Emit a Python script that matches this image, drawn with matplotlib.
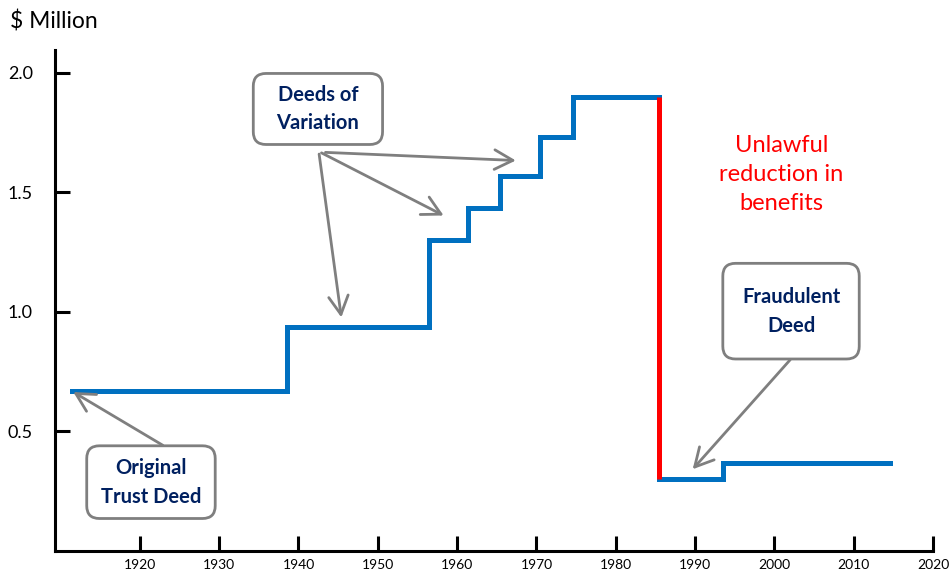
import matplotlib

matplotlib.use("Agg")
import matplotlib.pyplot as plt
from matplotlib.patches import FancyBboxPatch

# pension benefit level ($ million)
years_before = [1911.4, 1938.5, 1956.5, 1961.4, 1965.4, 1970.4, 1974.6, 1985.5]
benefit_before = [0.67, 0.935, 1.30, 1.435, 1.567, 1.733, 1.90, 1.90]
years_after = [1985.5, 1993.5, 2014.6]
benefit_after = [0.30, 0.37, 0.37]

x_ticks = list(range(1920, 2021, 10))
y_ticks = [0.5, 1.0, 1.5, 2.0]
y_tick_labels = ["0.5", "1.0", "1.5", "2.0"]

BLUE = "#0070C0"
RED = "#FF0000"
NAVY = "#002060"
GREY = "#7F7F7F"

plt.rcParams["font.family"] = ["Lato", "DejaVu Sans"]

fig = plt.figure(figsize=(9.5, 5.75), dpi=100)
ax = fig.add_axes([0.0579, 0.0417, 0.9242, 0.8713])
ax.set_xlim(1909.3, 2020)
ax.set_ylim(0, 2.095)

ax.plot(years_before, benefit_before, drawstyle="steps-post", color=BLUE, lw=3.6,
        solid_joinstyle="miter")
ax.plot(years_after, benefit_after, drawstyle="steps-post", color=BLUE, lw=3.6,
        solid_joinstyle="miter")
ax.plot([years_before[-1], years_after[0]], [benefit_before[-1], benefit_after[0]],
        color=RED, lw=3.6, solid_capstyle="butt")

for side in ("top", "right"):
    ax.spines[side].set_visible(False)
for side in ("left", "bottom"):
    ax.spines[side].set_linewidth(2.2)
ax.set_xticks(x_ticks)
ax.set_xticklabels([str(y) for y in x_ticks])
ax.set_yticks(y_ticks)
ax.set_yticklabels(y_tick_labels)
ax.tick_params(axis="x", direction="in", length=11, width=2.2, pad=6, labelsize=10)
ax.tick_params(axis="y", direction="in", length=11, width=2.2, pad=16, labelsize=13)

fig.text(0.011, 0.962, "$ Million", fontsize=16.5, ha="left", va="center")

# pixels per data unit, so rounded corners stay circular
p0 = ax.transData.transform((0, 0))
px = ax.transData.transform((1, 0))[0] - p0[0]
py = ax.transData.transform((0, 1))[1] - p0[1]
aspect = px / py


def callout(x0, x1, y0, y1, text):
    box = FancyBboxPatch((x0, y0), x1 - x0, y1 - y0,
                         boxstyle="round,pad=0,rounding_size=1.6",
                         mutation_aspect=aspect,
                         fc="white", ec=GREY, lw=2, zorder=4)
    ax.add_patch(box)
    ax.text((x0 + x1) / 2, (y0 + y1) / 2, text, ha="center", va="center",
            fontsize=14.5, fontweight="bold", color=NAVY, linespacing=1.55, zorder=5)


def arrow(tail, head):
    ax.annotate("", xy=head, xytext=tail,
                arrowprops=dict(arrowstyle="->,head_length=0.6,head_width=0.32",
                                color=GREY, lw=2, shrinkA=0, shrinkB=0,
                                mutation_scale=22), zorder=3)


arrow((1922.9, 0.442), (1911.6, 0.665))
callout(1913.3, 1929.5, 0.136, 0.44, "Original\nTrust Deed")

arrow((1942.6, 1.66), (1945.4, 0.977))
arrow((1942.9, 1.665), (1958.3, 1.403))
arrow((1943.4, 1.667), (1967.4, 1.633))
callout(1934.3, 1950.6, 1.70, 1.997, "Deeds of\nVariation")

arrow((2002.0, 0.80), (1989.7, 0.342))
callout(1993.5, 2010.7, 0.803, 1.203, "Fraudulent\nDeed")

ax.text(2000.9, 1.575, "Unlawful\nreduction in\nbenefits", ha="center", va="center",
        fontsize=17, color=RED, linespacing=1.45)

fig.savefig("out.png", dpi=100)
